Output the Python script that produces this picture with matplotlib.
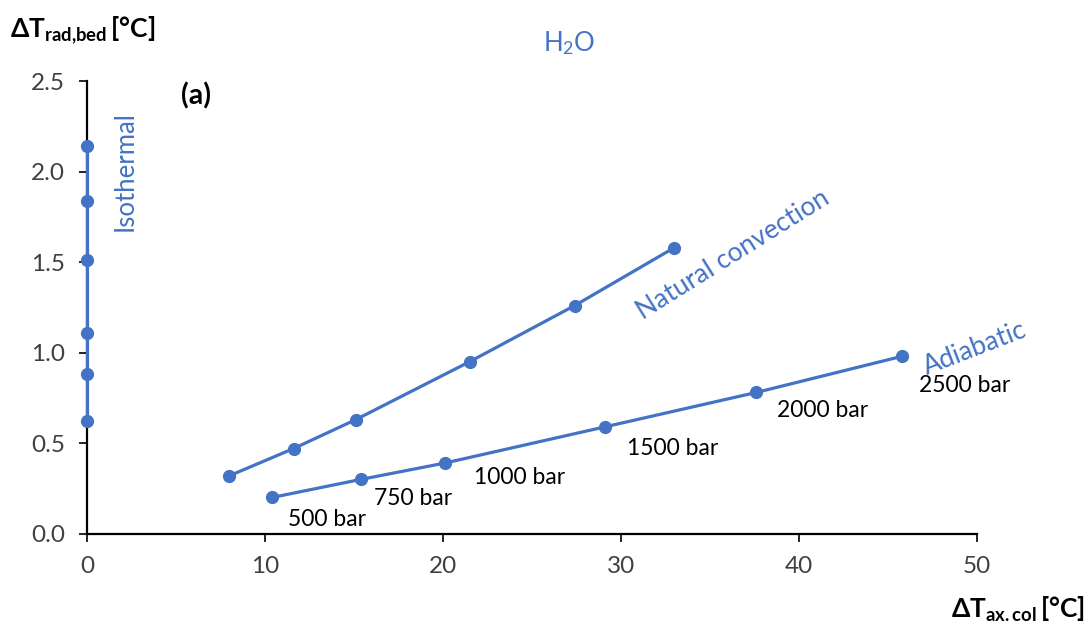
import matplotlib
matplotlib.use("Agg")
import matplotlib.pyplot as plt

# Temperature differences (°C) for H2O at the pressure levels
pressures = ["500 bar", "750 bar", "1000 bar", "1500 bar", "2000 bar", "2500 bar"]

iso_ax = [0, 0, 0, 0, 0, 0]
iso_rad = [0.62, 0.88, 1.11, 1.51, 1.84, 2.14]

nat_ax = [8.0, 11.6, 15.1, 21.5, 27.4, 33.0]
nat_rad = [0.32, 0.47, 0.63, 0.95, 1.26, 1.58]

adi_ax = [10.4, 15.4, 20.1, 29.1, 37.6, 45.8]
adi_rad = [0.20, 0.30, 0.39, 0.59, 0.78, 0.98]

# where the pressure labels sit next to the adiabatic points
label_pos = [(13.5, 0.076), (18.3, 0.197), (24.3, 0.313),
             (32.9, 0.468), (41.3, 0.678), (49.3, 0.816)]

BLUE = "#4472C4"
GREY = "#404040"

plt.rcParams["font.family"] = ["Lato", "DejaVu Sans"]
plt.rcParams["mathtext.fontset"] = "custom"
plt.rcParams["mathtext.rm"] = "Lato"
plt.rcParams["mathtext.bf"] = "Lato:bold"
plt.rcParams["mathtext.it"] = "Lato:italic"

fig = plt.figure(figsize=(10.92, 6.30), dpi=100)
ax = fig.add_axes([0.0797, 0.1529, 0.8150, 0.7185])

style = dict(color=BLUE, lw=2.3, marker="o", ms=8.5, clip_on=False, zorder=3)
ax.plot(iso_ax, iso_rad, **style)
ax.plot(nat_ax, nat_rad, **style)
ax.plot(adi_ax, adi_rad, **style)

ax.set_xlim(0, 50)
ax.set_ylim(0, 2.5)
ax.set_xticks(range(0, 51, 10))
ax.set_yticks([0, 0.5, 1.0, 1.5, 2.0, 2.5])
ax.set_yticklabels([f"{v:.1f}" for v in [0, 0.5, 1.0, 1.5, 2.0, 2.5]])

for s in ("top", "right"):
    ax.spines[s].set_visible(False)
for s in ("left", "bottom"):
    ax.spines[s].set_linewidth(1.6)
ax.tick_params(direction="out", length=6, width=1.2, pad=10,
               labelsize=17.5, labelcolor=GREY)

for txt, (x, y) in zip(pressures, label_pos):
    ax.text(x, y, txt, fontsize=16.5, ha="center", va="center", color="black")

ax.text(2.16, 2.0, "Isothermal", color=BLUE, fontsize=18.5, rotation=90,
        ha="center", va="center")
ax.text(36.3, 1.54, "Natural convection", color=BLUE, fontsize=19,
        rotation=32, ha="center", va="center", rotation_mode="anchor")
ax.text(49.9, 1.025, "Adiabatic", color=BLUE, fontsize=19,
        rotation=21, ha="center", va="center", rotation_mode="anchor")
ax.text(27.1, 2.71, r"H$_2$O", color=BLUE, fontsize=18.5,
        ha="center", va="center", clip_on=False)
ax.text(6.15, 2.42, "(a)", fontsize=20.5, fontweight="bold",
        ha="center", va="center")

fig.text(0.0092, 0.952, r"$\mathbf{\Delta T_{rad{,}bed}\,[°C]}$", fontsize=19,
         ha="left", va="center")
fig.text(0.993, 0.032, r"$\mathbf{\Delta T_{ax{.}col}\,[°C]}$", fontsize=19,
         ha="right", va="center")

fig.savefig("out.png", dpi=100)
